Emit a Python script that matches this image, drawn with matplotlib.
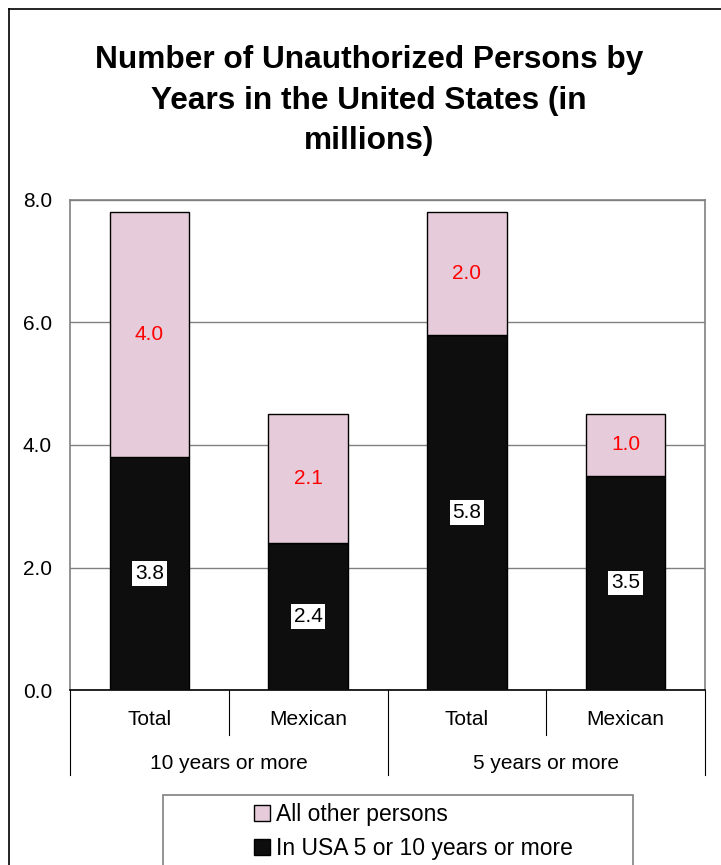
## stacked bars: unauthorized persons by years in US
import matplotlib.pyplot as plt
from matplotlib.lines import Line2D
from matplotlib.patches import Rectangle, Patch

# data
categories = ['Total', 'Mexican', 'Total', 'Mexican']
groups = ['10 years or more', '5 years or more']
in_usa = [3.8, 2.4, 5.8, 3.5]
other = [4.0, 2.1, 2.0, 1.0]
yticks = [0.0, 2.0, 4.0, 6.0, 8.0]
title_lines = ['Number of Unauthorized Persons by', 'Years in the United States (in', 'millions)']

pink = '#E6CCDA'
dark = '#0E0E0E'
grey = '#808080'

plt.rcParams['font.family'] = ['Liberation Sans', 'DejaVu Sans']

fig = plt.figure(figsize=(7.21, 8.65), dpi=100)
ax = fig.add_axes([70 / 721, 175 / 865, 635 / 721, 490 / 865])

x = list(range(len(categories)))
ax.bar(x, in_usa, width=0.5, color=dark, edgecolor='black', linewidth=1, zorder=3)
ax.bar(x, other, width=0.5, bottom=in_usa, color=pink, edgecolor='black', linewidth=1, zorder=3)

# value labels
for i in x:
    ax.text(i, in_usa[i] / 2, f'{in_usa[i]:.1f}', ha='center', va='center', fontsize=15,
            color='black', zorder=4,
            bbox=dict(facecolor='white', edgecolor='none', pad=2))
    ax.text(i, in_usa[i] + other[i] / 2, f'{other[i]:.1f}', ha='center', va='center',
            fontsize=15, color='red', zorder=4)

ax.set_xlim(-0.5, len(categories) - 0.5)
ax.set_ylim(0, 8)
ax.set_yticks(yticks)
ax.set_yticklabels([f'{v:.1f}' for v in yticks], fontsize=15)
ax.yaxis.grid(True, color=grey, linewidth=1, zorder=0)
ax.tick_params(axis='y', length=0, pad=13)
ax.set_xticks([])
for s in ax.spines.values():
    s.set_color(grey)
    s.set_linewidth(1.2)
ax.spines['bottom'].set_color('black')

# multi-level x labels
tr = ax.get_xaxis_transform()
for i, c in enumerate(categories):
    ax.text(i, -0.061, c, transform=tr, ha='center', va='center', fontsize=15)
for g, name in enumerate(groups):
    ax.text(g * 2 + 0.5, -0.149, name, transform=tr, ha='center', va='center', fontsize=15)
for xs in [0.5, 2.5]:
    ax.add_line(Line2D([xs, xs], [0, -0.092], transform=tr, color='black', linewidth=0.8, clip_on=False))
for xs in [-0.5, 1.5, 3.5]:
    ax.add_line(Line2D([xs, xs], [0, -0.173], transform=tr, color='black', linewidth=0.8, clip_on=False))

# title, one line at a time
for k, line in enumerate(title_lines):
    fig.text(369 / 721, 1 - (60 + 40.5 * k) / 865, line,
             ha='center', va='center', fontsize=22.8, fontweight='bold')

# outer chart border (left and top)
fig.add_artist(Line2D([9 / 721, 9 / 721], [0, 1 - 9 / 865], transform=fig.transFigure, color='black', linewidth=1.2))
fig.add_artist(Line2D([9 / 721, 1], [1 - 9 / 865, 1 - 9 / 865], transform=fig.transFigure, color='black', linewidth=1.2))

# legend
fig.add_artist(Rectangle((163 / 721, -0.05), 470 / 721, 0.05 + 70 / 865, transform=fig.transFigure,
                         facecolor='white', edgecolor=grey, linewidth=1.2))
handles = [Patch(facecolor=pink, edgecolor='black', label='All other persons'),
           Patch(facecolor=dark, edgecolor='black', label='In USA 5 or 10 years or more')]
fig.legend(handles=handles, loc='upper left', bbox_to_anchor=(254 / 721, 1 - 803 / 865),
           frameon=False, fontsize=16.5, handlelength=0.7, handleheight=0.7,
           handletextpad=0.25, labelspacing=0.5, borderaxespad=0, borderpad=0)

plt.savefig('out.png', dpi=100)
